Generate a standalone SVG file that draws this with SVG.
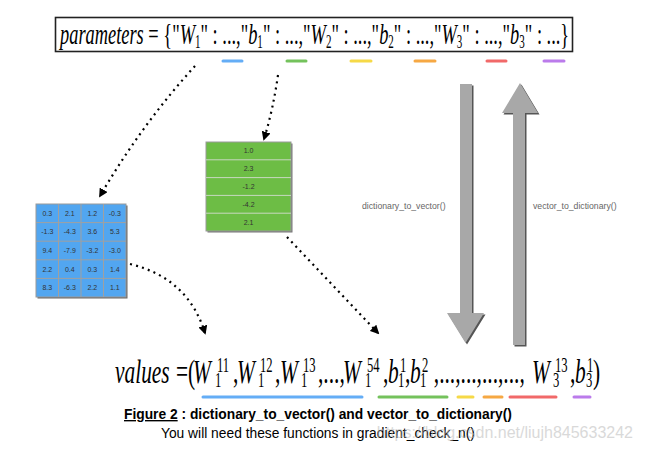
<svg xmlns="http://www.w3.org/2000/svg" width="651" height="454" viewBox="0 0 651 454">
<style>
.math{font-family:"Liberation Serif","Times New Roman",serif;fill:#000}
.it{font-style:italic}
.sc{font-size:20px;font-style:normal}
.cell{font-family:"Liberation Sans",Arial,sans-serif;font-size:7px;fill:#333;text-anchor:middle}
.lbl{font-family:"Liberation Sans",Arial,sans-serif;font-size:8.7px;fill:#666}
.cap{font-family:"Liberation Sans",Arial,sans-serif;font-size:13.8px;fill:#000}
.dot{fill:none;stroke:#000;stroke-width:2.2;stroke-dasharray:2 4.2;marker-end:url(#ah)}
.mk{stroke-width:3;stroke-linecap:round;opacity:.85}
</style>
<defs>
<marker id="ah" viewBox="0 0 10 10" refX="8" refY="5" markerWidth="9" markerHeight="9" markerUnits="userSpaceOnUse" orient="auto"><path d="M0,0 L10,5 L0,10 z" fill="#000"/></marker>
</defs>
<rect width="651" height="454" fill="#fff"/>

<g id="parameters">
<rect x="55.5" y="17.5" width="517" height="34" fill="#fff" stroke="#222" stroke-width="1.6"/>
<g transform="translate(60,44) scale(0.613,1)">
<text class="math" font-size="30"><tspan class="it">parameters</tspan> = {"<tspan class="it">W</tspan><tspan font-size="18" dy="4">1</tspan><tspan dy="-4">" : ...,"</tspan><tspan class="it">b</tspan><tspan font-size="18" dy="4">1</tspan><tspan dy="-4">" : ...,"</tspan><tspan class="it">W</tspan><tspan font-size="18" dy="4">2</tspan><tspan dy="-4">" : ...,"</tspan><tspan class="it">b</tspan><tspan font-size="18" dy="4">2</tspan><tspan dy="-4">" : ...,"</tspan><tspan class="it">W</tspan><tspan font-size="18" dy="4">3</tspan><tspan dy="-4">" : ...,"</tspan><tspan class="it">b</tspan><tspan font-size="18" dy="4">3</tspan><tspan dy="-4">" : ...}</tspan></text>
</g>
<line class="mk" x1="223" y1="61" x2="242" y2="61" stroke="#4a9ff5"/>
<line class="mk" x1="287" y1="61" x2="306" y2="61" stroke="#5cb840"/>
<line class="mk" x1="351" y1="61" x2="371" y2="61" stroke="#f5d327"/>
<line class="mk" x1="415" y1="61" x2="435" y2="61" stroke="#f59a23"/>
<line class="mk" x1="487" y1="61" x2="506" y2="61" stroke="#ef4f4f"/>
<line class="mk" x1="544" y1="61" x2="564" y2="61" stroke="#b065e8"/>
</g>

<g id="matrix-W">
<rect x="37.5" y="205.5" width="90" height="93" fill="#666"/>
<rect x="36" y="204" width="90" height="93" fill="#52a6f0" stroke="#9a9a9a" stroke-width="1"/>
<path d="M58.5,204V297M81,204V297M103.5,204V297M36,222.6H126M36,241.2H126M36,259.8H126M36,278.4H126" stroke="#a0a0a0" stroke-width="1" fill="none"/>
<text class="cell" x="47.25" y="215.8">0.3</text><text class="cell" x="69.75" y="215.8">2.1</text><text class="cell" x="92.25" y="215.8">1.2</text><text class="cell" x="114.75" y="215.8">-0.3</text>
<text class="cell" x="47.25" y="234.4">-1.3</text><text class="cell" x="69.75" y="234.4">-4.3</text><text class="cell" x="92.25" y="234.4">3.6</text><text class="cell" x="114.75" y="234.4">5.3</text>
<text class="cell" x="47.25" y="253">9.4</text><text class="cell" x="69.75" y="253">-7.9</text><text class="cell" x="92.25" y="253">-3.2</text><text class="cell" x="114.75" y="253">-3.0</text>
<text class="cell" x="47.25" y="271.6">2.2</text><text class="cell" x="69.75" y="271.6">0.4</text><text class="cell" x="92.25" y="271.6">0.3</text><text class="cell" x="114.75" y="271.6">1.4</text>
<text class="cell" x="47.25" y="290.2">8.3</text><text class="cell" x="69.75" y="290.2">-6.3</text><text class="cell" x="92.25" y="290.2">2.2</text><text class="cell" x="114.75" y="290.2">1.1</text>
</g>

<g id="vector-b">
<rect x="207.5" y="143.5" width="85" height="89" fill="#777"/>
<rect x="206" y="142" width="85" height="89" fill="#6dbd45" stroke="#9a9a9a" stroke-width="1"/>
<path d="M206,159.8H291M206,177.6H291M206,195.4H291M206,213.2H291" stroke="#c8d8c0" stroke-width="1" fill="none"/>
<text class="cell" x="248.5" y="153.4">1.0</text>
<text class="cell" x="248.5" y="171.2">2.3</text>
<text class="cell" x="248.5" y="189">-1.2</text>
<text class="cell" x="248.5" y="206.8">-4.2</text>
<text class="cell" x="248.5" y="224.6">2.1</text>
</g>

<g id="values">
<g transform="translate(115,383) scale(0.63,1)">
<text class="math" font-size="34"><tspan x="0" y="0" class="it">values</tspan><tspan x="96.8" y="0">=</tspan><tspan x="115.9" y="0">(</tspan><tspan x="123.8" y="0" class="it">W</tspan><tspan x="161.9" y="-11" class="sc">11</tspan><tspan x="158.7" y="4" class="sc">1</tspan><tspan x="187.3" y="0">,</tspan><tspan x="193.7" y="0" class="it">W</tspan><tspan x="230.2" y="-11" class="sc">12</tspan><tspan x="227" y="4" class="sc">1</tspan><tspan x="254" y="0">,</tspan><tspan x="261.9" y="0" class="it">W</tspan><tspan x="298.4" y="-11" class="sc">13</tspan><tspan x="295.2" y="4" class="sc">1</tspan><tspan x="322.2" y="0">,...,</tspan><tspan x="361.9" y="0" class="it">W</tspan><tspan x="400" y="-11" class="sc">54</tspan><tspan x="396.8" y="4" class="sc">1</tspan><tspan x="425.4" y="0">,</tspan><tspan x="433.3" y="0" class="it">b</tspan><tspan x="452.4" y="-11" class="sc">1</tspan><tspan x="449.2" y="4" class="sc">1</tspan><tspan x="460.3" y="0">,</tspan><tspan x="468.3" y="0" class="it">b</tspan><tspan x="487.3" y="-11" class="sc">2</tspan><tspan x="484.1" y="4" class="sc">1</tspan><tspan x="506" y="0">,...,...,...,...,</tspan><tspan x="661.9" y="0" class="it">W</tspan><tspan x="698.4" y="-11" class="sc">13</tspan><tspan x="695.2" y="4" class="sc">3</tspan><tspan x="722.2" y="0">,</tspan><tspan x="730.2" y="0" class="it">b</tspan><tspan x="749.2" y="-11" class="sc">1</tspan><tspan x="747.6" y="4" class="sc">3</tspan><tspan x="758.7" y="0">)</tspan></text>
</g>
<line class="mk" x1="203" y1="397" x2="362" y2="397" stroke="#4a9ff5"/>
<line class="mk" x1="379" y1="397" x2="447" y2="397" stroke="#5cb840"/>
<line class="mk" x1="458" y1="397" x2="473" y2="397" stroke="#f5d327"/>
<line class="mk" x1="484" y1="397" x2="502" y2="397" stroke="#f59a23"/>
<line class="mk" x1="510" y1="397" x2="556" y2="397" stroke="#ef4f4f"/>
<line class="mk" x1="574" y1="397" x2="590" y2="397" stroke="#b065e8"/>
</g>

<g id="connectors">
<path class="dot" d="M195,66 Q142,124 100,196"/>
<path class="dot" d="M278,75 Q273,110 264,139"/>
<path class="dot" d="M130,264 Q188,278 205,333"/>
<path class="dot" d="M287,237 L378,333"/>
</g>

<g id="dict-to-vector">
<path d="M461.5,85.5H473.5V314.5H485.5L467,344.5L448.5,314.5H461.5Z" fill="#555"/>
<path d="M460,84H472V313H484L465.5,343L447,313H460Z" fill="#a8a8a8"/>
<text class="lbl" x="362" y="209">dictionary_to_vector()</text>
</g>

<g id="vector-to-dict">
<path d="M514.5,346.5V114.5H503.5L521.5,84.5L539.5,114.5H526.5V346.5Z" fill="#555"/>
<path d="M513,345V113H502L520,83L538,113H525V345Z" fill="#a8a8a8"/>
<text class="lbl" x="533" y="209">vector_to_dictionary()</text>
</g>

<g id="caption">
<text class="cap" x="124" y="419" font-weight="bold"><tspan text-decoration="underline">Figure 2</tspan> : dictionary_to_vector() and vector_to_dictionary()</text>
<text class="cap" x="161" y="438">You will need these functions in gradient_check_n()</text>
<text x="633" y="438" text-anchor="end" font-family="Liberation Sans, Arial, sans-serif" font-size="16" fill="#bbb" opacity="0.55">https://blog.csdn.net/liujh845633242</text>
</g>
</svg>
